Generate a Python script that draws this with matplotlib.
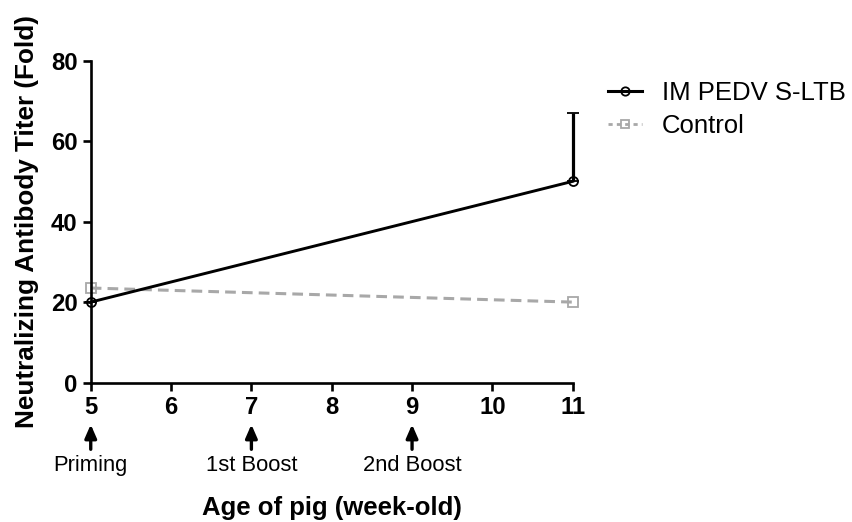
import matplotlib.pyplot as plt
from matplotlib.lines import Line2D

plt.rcParams['font.family'] = ['Liberation Sans', 'DejaVu Sans']

# data
weeks = [5, 11]
im_titer = [20, 50]
im_err = [0, 17]
ctrl_titer = [23.5, 20]
vacc_weeks = [5, 7, 9]
vacc_labels = ["Priming", "1st Boost", "2nd Boost"]

fig = plt.figure(figsize=(8.52, 5.22), dpi=100)
ax = fig.add_axes([0.1065, 0.267, 0.5657, 0.617])

grey = '#a8a8a8'
ax.plot(weeks, ctrl_titer, color=grey, ls=(0, (3.5, 2)), lw=2.2,
        marker='s', ms=6.5, mfc='none', mec=grey, mew=1.3, zorder=2, clip_on=False)
ax.errorbar(weeks, im_titer, yerr=[[0, 0], im_err], color='black', lw=2.1,
            marker='o', ms=6.5, mfc='none', mew=1.3, capsize=4, capthick=2,
            elinewidth=2.3, zorder=3, clip_on=False)

ax.set_xlim(5, 11)
ax.set_ylim(0, 80)
ax.set_xticks(range(5, 12))
ax.set_yticks([0, 20, 40, 60, 80])
for s in ['top', 'right']:
    ax.spines[s].set_visible(False)
for s in ['left', 'bottom']:
    ax.spines[s].set_linewidth(1.9)
ax.tick_params(width=1.9, length=5.5, labelsize=17.2, pad=4)
for lab in ax.get_xticklabels() + ax.get_yticklabels():
    lab.set_fontweight('bold')

ax.set_ylabel('Neutralizing Antibody Titer (Fold)', fontsize=18.8, fontweight='bold')
ax.yaxis.set_label_coords(-0.107, 0.5)
ax.set_xlabel('Age of pig (week-old)', fontsize=18.5, fontweight='bold')
ax.xaxis.set_label_coords(0.5, -0.352)

for w, lbl in zip(vacc_weeks, vacc_labels):
    ax.annotate('', xy=(w, -0.13), xytext=(w, -0.207),
                xycoords=('data', 'axes fraction'), textcoords=('data', 'axes fraction'),
                arrowprops=dict(arrowstyle='-|>,head_width=0.35,head_length=0.8', lw=2.4,
                                color='black', shrinkA=0, shrinkB=0), annotation_clip=False)
    ax.text(w, -0.257, lbl, transform=ax.get_xaxis_transform(), ha='center', va='center',
            fontsize=15.8)

handles = [
    Line2D([], [], color='black', lw=2.2, marker='o', ms=6, mfc='none', mew=1.3),
    Line2D([], [], color=grey, lw=2.0, ls=(0, (1.5, 1.5)), marker='s', ms=6, mfc='none', mew=1.3),
]
ax.legend(handles, ['IM PEDV S-LTB', 'Control'], loc='upper left', bbox_to_anchor=(1.0255, 1.009),
          frameon=False, fontsize=18.5, handlelength=1.32, handletextpad=0.78, labelspacing=0.35)

fig.savefig('out.png', dpi=100)
